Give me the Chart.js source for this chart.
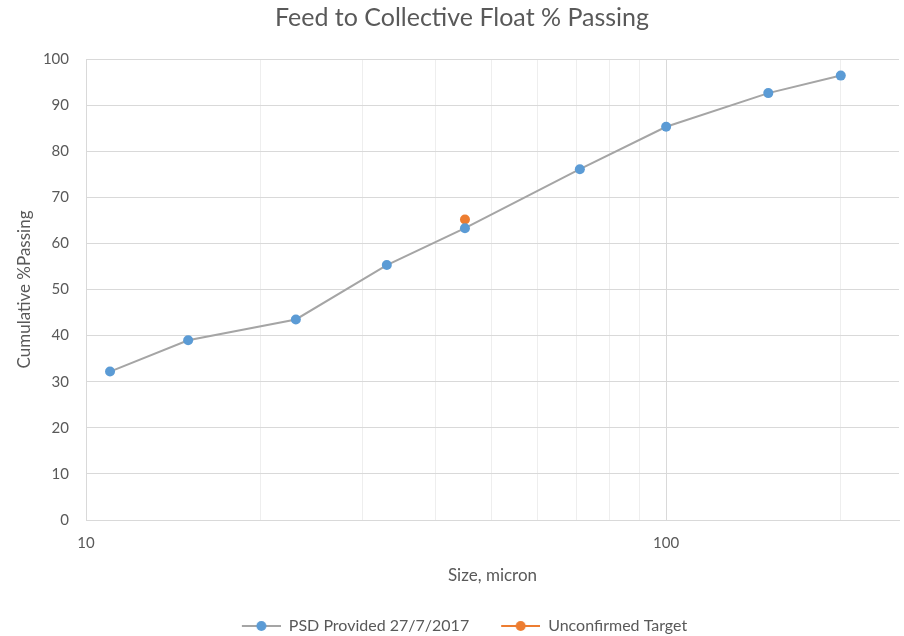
<!DOCTYPE html>
<html><head><meta charset="utf-8">
<script src="https://cdn.jsdelivr.net/npm/chart.js@4/dist/chart.umd.min.js"></script>
<style>html,body{margin:0;padding:0;background:#fff;}#wrap{width:904px;height:636px;}</style>
</head><body><div id="wrap"><canvas id="c" width="904" height="636"></canvas></div>
<script>
const sizes = [11, 15, 23, 33, 45, 71, 100, 150, 200];
const passing = [32.2, 39.0, 43.5, 55.3, 63.3, 76.1, 85.3, 92.6, 96.4];
const targetSize = [45];
const targetPassing = [65.2];
const xTickValues = [10,20,30,40,50,60,70,80,90,100,200];
const xLabelValues = [10, 100];
const seriesNames = ['PSD Provided 27/7/2017', 'Unconfirmed Target'];

function legendIcon(lineColor, dotColor){
  const c = document.createElement('canvas'); c.width = 66; c.height = 12;
  const g = c.getContext('2d');
  g.strokeStyle = lineColor; g.lineWidth = 2;
  g.beginPath(); g.moveTo(27,6); g.lineTo(66,6); g.stroke();
  g.fillStyle = dotColor; g.beginPath(); g.arc(46.5,6,5,0,Math.PI*2); g.fill();
  return c;
}
const icons = [legendIcon('#a5a5a5','#5b9bd5'), legendIcon('#ed7d31','#ed7d31')];
const font = "Lato, 'Open Sans', sans-serif";
const txt = '#595959';

// shifts the legend drawing a little to the left to match the reference placement
const legendShift = {
  id: 'legendShift',
  afterInit(chart){
    const lg = chart.legend;
    if (!lg || lg._shifted) return;
    const orig = lg.draw;
    lg.draw = function(){ const c = this.ctx; c.save(); c.translate(-11, 0); orig.apply(this, arguments); c.restore(); };
    lg._shifted = true;
  }
};

new Chart(document.getElementById('c'), {
  type: 'line',
  data: {
    datasets: [
      { label: seriesNames[0], data: sizes.map((s,i)=>({x:s,y:passing[i]})),
        borderColor:'#a5a5a5', borderWidth:2, backgroundColor:'#5b9bd5',
        pointBackgroundColor:'#5b9bd5', pointBorderColor:'#5b9bd5', pointRadius:5, pointBorderWidth:0, tension:0 },
      { label: seriesNames[1], data: targetSize.map((s,i)=>({x:s,y:targetPassing[i]})),
        borderColor:'#ed7d31', borderWidth:2, backgroundColor:'#ed7d31',
        pointBackgroundColor:'#ed7d31', pointBorderColor:'#ed7d31', pointRadius:5, pointBorderWidth:0 }
    ]
  },
  plugins:[legendShift],
  options: {
    responsive:false, animation:false, devicePixelRatio:1,
    layout:{ padding:{ left:22, right:2, top:0, bottom:-8 } },
    plugins:{
      title:{ display:true, text:'Feed to Collective Float % Passing', color:txt,
        font:{ family:font, size:25, weight:'normal' }, padding:{ top:3, bottom:26 } },
      legend:{ position:'bottom', labels:{ color:txt, font:{ family:font, size:16 },
        usePointStyle:true, pointStyleWidth:66, boxHeight:12, padding:5,
        generateLabels:(chart)=>chart.data.datasets.map((d,i)=>({
          text:d.label, pointStyle:icons[i], fontColor:txt, datasetIndex:i,
          strokeStyle:'transparent', fillStyle:'transparent', lineWidth:0 })) } },
      tooltip:{ enabled:false }
    },
    scales:{
      x:{ type:'logarithmic', min:10, max:252,
        afterBuildTicks:(s)=>{ s.ticks = xTickValues.map(v=>({value:v})); },
        afterFit:(s)=>{ s.height = 93; },
        ticks:{ color:txt, font:{ family:font, size:15 }, autoSkip:false, maxRotation:0, padding:14,
          callback:(v)=> xLabelValues.includes(v) ? String(v) : '' },
        grid:{ color:(ctx)=> (ctx.tick && xLabelValues.includes(ctx.tick.value)) ? '#d9d9d9' : '#eeeeee',
          drawTicks:false, lineWidth:1 },
        border:{ color:'#d9d9d9', width:1 },
        title:{ display:true, text:'Size, micron', color:txt, font:{ family:font, size:17 }, padding:{ top:0, bottom:27 } }
      },
      y:{ min:0, max:100,
        afterFit:(s)=>{ s.width = 64; },
        ticks:{ stepSize:10, color:txt, font:{ family:font, size:15 }, padding:17 },
        grid:{ color:'#d9d9d9', drawTicks:false },
        border:{ color:'#d9d9d9' },
        title:{ display:true, text:'Cumulative %Passing', color:txt, font:{ family:font, size:17 }, padding:{ top:-8, bottom:0 } }
      }
    }
  }
});
</script></body></html>
